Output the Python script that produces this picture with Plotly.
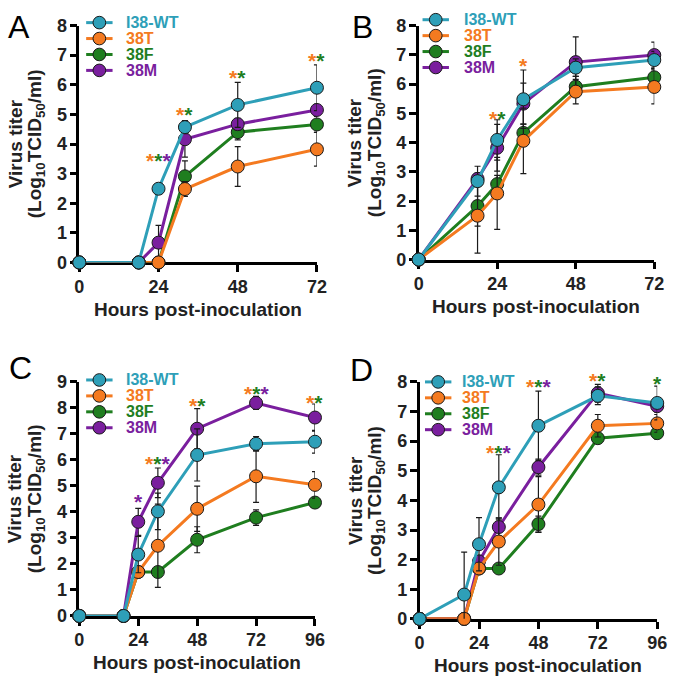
import plotly.graph_objects as go

W, H = 677, 691
FONT = "Liberation Sans, Arial, Helvetica, sans-serif"

SERIES = ["I38-WT", "38T", "38F", "38M"]
COLORS = {"I38-WT": "#2E9FB8", "38T": "#F47A20", "38F": "#1F7E1F", "38M": "#7A1F9E"}
DRAW_ORDER = ["38F", "38M", "38T", "I38-WT"]

# ---------------- Panel A ----------------
A_hours = [0, 18, 24, 32, 48, 72]
A_WT = [0, 0, 2.49, 4.57, 5.32, 5.90]
A_WT_err = [0, 0, 0, 0.22, 0.76, 0.77]
A_38T = [0, 0, 0, 2.48, 3.24, 3.82]
A_38T_err = [0, 0, 0, 0.25, 0.67, 0.57]
A_38F = [0, 0, 0, 2.91, 4.40, 4.66]
A_38F_err = [0, 0, 0, 0.52, 0.26, 0.27]
A_38M = [0, 0, 0.67, 4.16, 4.67, 5.15]
A_38M_err = [0, 0, 0.58, 0.60, 0.20, 0.20]
A_star_hours = [24, 32, 48, 72]
A_star_y = [3.60, 5.15, 6.43, 6.98]
A_star_groups = [["38T", "38F", "38M"], ["38T", "38F"], ["38T", "38F"], ["38T", "38F"]]

# ---------------- Panel B ----------------
B_hours = [0, 18, 24, 32, 48, 72]
B_WT = [0, 2.68, 4.09, 5.48, 6.56, 6.82]
B_WT_err = [0, 0.51, 0.69, 1.00, 0.30, 0.30]
B_38T = [0, 1.50, 2.26, 4.06, 5.74, 5.90]
B_38T_err = [0, 1.28, 1.23, 1.12, 0.42, 0.58]
B_38F = [0, 1.83, 2.58, 4.33, 5.91, 6.23]
B_38F_err = [0, 0.69, 0.30, 0.30, 0.35, 0.30]
B_38M = [0, 2.76, 3.82, 5.33, 6.75, 6.99]
B_38M_err = [0, 0.20, 0.80, 0.70, 0.86, 0.44]
B_star_hours = [24, 32]
B_star_y = [5.00, 6.80]
B_star_groups = [["38T", "38F"], ["38T"]]

# ---------------- Panel C ----------------
C_hours = [0, 18, 24, 32, 48, 72, 96]
C_WT = [0, 0, 2.36, 4.02, 6.19, 6.62, 6.70]
C_WT_err = [0, 0, 0.70, 0.70, 1.00, 0.28, 0.44]
C_38T = [0, 0, 1.69, 2.70, 4.12, 5.37, 5.04]
C_38T_err = [0, 0, 0, 1.60, 0.87, 1.00, 0.51]
C_38F = [0, 0, 1.69, 1.69, 2.93, 3.78, 4.36]
C_38F_err = [0, 0, 0, 0, 0.50, 0.30, 0.10]
C_38M = [0, 0, 3.62, 5.12, 7.20, 8.19, 7.63]
C_38M_err = [0, 0, 0.52, 0.57, 0.77, 0.25, 0.52]
C_star_hours = [24, 32, 48, 72, 96]
C_star_y = [4.58, 6.07, 8.28, 8.75, 8.40]
C_star_groups = [["38M"], ["38T", "38F", "38M"], ["38T", "38F"], ["38T", "38F", "38M"], ["38T", "38F"]]

# ---------------- Panel D ----------------
D_hours = [0, 18, 24, 32, 48, 72, 96]
D_WT = [0, 0.82, 2.52, 4.44, 6.52, 7.53, 7.29]
D_WT_err = [0, 1.43, 0.90, 1.10, 1.17, 0.30, 0.57]
D_38T = [0, 0, 1.70, 2.61, 3.86, 6.52, 6.60]
D_38T_err = [0, 0, 0.15, 0.80, 0.94, 0.38, 0.30]
D_38F = [0, 0, 1.70, 1.70, 3.20, 6.10, 6.27]
D_38F_err = [0, 0, 0, 0, 0.27, 0.10, 0.20]
D_38M = [0, 0, 1.94, 3.10, 5.12, 7.62, 7.18]
D_38M_err = [0, 0, 0.20, 0.30, 0.27, 0.30, 0.20]
D_star_hours = [32, 48, 72, 96]
D_star_y = [5.80, 8.02, 8.20, 8.10]
D_star_groups = [["38T", "38F", "38M"], ["38T", "38F", "38M"], ["38T", "38F"], ["38F"]]

X_TICKS_72 = [0, 24, 48, 72]
X_TICKS_96 = [0, 24, 48, 72, 96]

X_TITLE = "Hours post-inoculation"
Y_TITLE_1 = "Virus titer"
Y_TITLE_2 = "(Log<sub>10</sub>TCID<sub>50</sub>/ml)"

panels = [
    dict(letter="A", hours=A_hours,
         vals={"I38-WT": (A_WT, A_WT_err), "38T": (A_38T, A_38T_err), "38F": (A_38F, A_38F_err), "38M": (A_38M, A_38M_err)},
         stars=(A_star_hours, A_star_y, A_star_groups), xticks=X_TICKS_72, ymax=8,
         box=(76, 319, 16, 260), leg=(-3, 20.5, 45.5), letter_pos=(14, 18)),
    dict(letter="B", hours=B_hours,
         vals={"I38-WT": (B_WT, B_WT_err), "38T": (B_38T, B_38T_err), "38F": (B_38F, B_38F_err), "38M": (B_38M, B_38M_err)},
         stars=(B_star_hours, B_star_y, B_star_groups), xticks=X_TICKS_72, ymax=8,
         box=(423, 664, 16, 257), leg=(-6, 17.5, 44), letter_pos=(366, 17)),
    dict(letter="C", hours=C_hours,
         vals={"I38-WT": (C_WT, C_WT_err), "38T": (C_38T, C_38T_err), "38F": (C_38F, C_38F_err), "38M": (C_38M, C_38M_err)},
         stars=(C_star_hours, C_star_y, C_star_groups), xticks=X_TICKS_96, ymax=9,
         box=(76, 317, 383, 624), leg=(-2, 20.5, 45.5), letter_pos=(16, 369)),
    dict(letter="D", hours=D_hours,
         vals={"I38-WT": (D_WT, D_WT_err), "38T": (D_38T, D_38T_err), "38F": (D_38F, D_38F_err), "38M": (D_38M, D_38M_err)},
         stars=(D_star_hours, D_star_y, D_star_groups), xticks=X_TICKS_96, ymax=8,
         box=(424, 667, 383, 627), leg=(0, 19, 41), letter_pos=(365, 371)),
]


def px(x):
    return x / W


def py(y):
    return 1 - y / H


fig = go.Figure()
annotations = []
shapes = []

axis_common = dict(
    showline=True, linewidth=2.5, linecolor="black", mirror=False,
    ticks="outside", ticklen=7, tickwidth=2.5, tickcolor="black",
    showgrid=False, zeroline=False, layer="below traces",
    tickfont=dict(family=FONT, size=18, color="#222222", weight="bold"),
    fixedrange=True,
)

for i, p in enumerate(panels):
    n = i + 1
    xa = "x" if n == 1 else f"x{n}"
    ya = "y" if n == 1 else f"y{n}"
    x0, x1, yt, yb = p["box"]
    xmax = p["xticks"][-1]

    fig.update_layout(**{
        ("xaxis" if n == 1 else f"xaxis{n}"): dict(
            axis_common, domain=[px(x0), px(x1)], range=[0, xmax],
            tickvals=p["xticks"], anchor=ya, ticklabelstandoff=-1),
        ("yaxis" if n == 1 else f"yaxis{n}"): dict(
            axis_common, domain=[py(yb), py(yt)], range=[0, p["ymax"]],
            tick0=0, dtick=1, anchor=xa, ticklabelstandoff=-1),
    })

    for s in DRAW_ORDER:
        v, e = p["vals"][s]
        fig.add_trace(go.Scatter(
            x=p["hours"], y=v, xaxis=xa, yaxis=ya, mode="lines+markers",
            name=s, showlegend=False, cliponaxis=False,
            line=dict(color=COLORS[s], width=3),
            marker=dict(size=13, color=COLORS[s], line=dict(color="#1a1a1a", width=1)),
            error_y=dict(type="data", array=e, visible=True, color="#1a1a1a",
                         thickness=1.2, width=3),
        ))

    # significance asterisks (y given in axis units, placed via the axis domain
    # so that marks above the top of the axis range are still shown)
    sh, sy, sg = p["stars"]
    for h, yv, grp in zip(sh, sy, sg):
        txt = "".join(f'<span style="color:{COLORS[g]}">*</span>' for g in grp)
        annotations.append(dict(
            x=h, y=yv / p["ymax"], xref=xa, yref=f"{ya} domain", text=txt,
            showarrow=False, xanchor="center", yanchor="middle", yshift=-5,
            font=dict(family=FONT, size=21, weight="bold")))

    # legend (drawn manually to match compact spacing)
    dy, mx_off, tx_off = p["leg"]
    for k, s in enumerate(SERIES):
        ry = yt + dy + k * 16.4
        mx = x0 + mx_off
        shapes.append(dict(type="line", xref="paper", yref="paper",
                           x0=px(mx - 13.5), x1=px(mx + 13.5), y0=py(ry), y1=py(ry),
                           line=dict(color=COLORS[s], width=3)))
        shapes.append(dict(type="circle", xref="paper", yref="paper",
                           x0=px(mx - 6.5), x1=px(mx + 6.5), y0=py(ry + 6.5), y1=py(ry - 6.5),
                           fillcolor=COLORS[s], line=dict(color="#1a1a1a", width=1)))
        annotations.append(dict(
            x=px(x0 + tx_off), y=py(ry), xref="paper", yref="paper", text=s,
            showarrow=False, xanchor="left", yanchor="middle",
            font=dict(family=FONT, size=16, color=COLORS[s], weight="bold")))

    # axis titles
    xc = (x0 + x1) / 2
    yc = (yt + yb) / 2
    annotations.append(dict(
        x=px(xc), y=py(yb + 48), xref="paper", yref="paper", text=X_TITLE,
        showarrow=False, xanchor="center", yanchor="middle",
        font=dict(family=FONT, size=19, color="#222222", weight="bold")))
    annotations.append(dict(
        x=px(x0 - 65.5), y=py(yc), xref="paper", yref="paper", text=Y_TITLE_1,
        showarrow=False, xanchor="center", yanchor="middle", textangle=-90,
        font=dict(family=FONT, size=19, color="#222222", weight="bold")))
    annotations.append(dict(
        x=px(x0 - 44), y=py(yc), xref="paper", yref="paper", text=Y_TITLE_2,
        showarrow=False, xanchor="center", yanchor="middle", textangle=-90,
        font=dict(family=FONT, size=19, color="#222222", weight="bold")))

    # panel letter
    lx, ly = p["letter_pos"]
    annotations.append(dict(
        x=px(lx), y=py(ly), xref="paper", yref="paper", text=p["letter"],
        showarrow=False, xanchor="center", yanchor="middle",
        font=dict(family=FONT, size=32, color="black")))

fig.update_layout(
    width=W, height=H,
    margin=dict(l=0, r=0, t=0, b=0, pad=0),
    paper_bgcolor="white", plot_bgcolor="white",
    showlegend=False,
    annotations=annotations, shapes=shapes,
    font=dict(family=FONT),
)

fig.write_html(
    "out.html",
    config={"displayModeBar": False},
    post_script="document.body.style.margin='0px';document.body.style.overflow='hidden';",
)
